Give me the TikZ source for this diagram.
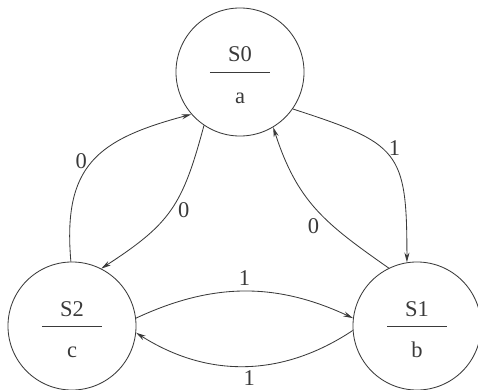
\documentclass[tikz,border=0pt]{standalone}
\usepackage{fontspec}
\setmainfont{Liberation Serif}
\usepackage{xcolor}
\usetikzlibrary{arrows.meta}
\definecolor{inkgray}{HTML}{3A3A3A}
\tikzset{
  state/.style={circle,draw=inkgray,line width=0.6pt,minimum size=3.2cm,inner sep=0pt},
  trans/.style={draw=inkgray,line width=0.6pt,-{Stealth[length=7pt,width=3.6pt]}},
  lbl/.style={font=\fontsize{16}{19}\selectfont,text=inkgray,inner sep=0pt},
}

\begin{document}
\begin{tikzpicture}[x=0.025cm,y=0.025cm]
  \useasboundingbox (0,0) rectangle (478,389);
  % states: name, output under the bar
  \foreach \nm/\px/\py/\st/\outp in {s0/240/317/S0/a, s2/72/63/S2/c, s1/417/63/S1/b} {
    \node[state] (\nm) at (\px,\py) {};
    \draw[inkgray,line width=0.5pt] ([xshift=-0.75cm]\nm.center) -- ([xshift=0.75cm]\nm.center);
    \node[lbl,anchor=base] (\nm-name) at ([yshift=0.25cm]\nm.center) {\st};
    \node[lbl,anchor=base] (\nm-out) at ([yshift=-0.78cm]\nm.center) {\outp};
  }
  % transitions
  \draw[trans] (s2.91) to[out=95,in=195,looseness=1.3] node[lbl,pos=0.5,left=4pt] (e20) {0} (s0.221);
  \draw[trans] (s0.236) to[out=255,in=33,looseness=1.2] node[lbl,pos=0.5,right=5pt] (e02) {0} (s2.63);
  \draw[trans] (s0.325) to[out=-18,in=90,looseness=1.5] node[lbl,pos=0.42,right=5pt] (e01) {1} (s1.99);
  \draw[trans] (s1.116) to[out=145,in=-72,looseness=1.1] node[lbl,pos=0.35,left=10pt] (e10) {0} (s0.301);
  \draw[trans] (s2.7) to[bend left=25] node[lbl,pos=0.5,above=4pt] (e21) {1} (s1.173);
  \draw[trans] (s1.184) to[bend left=33] node[lbl,pos=0.48,below=3pt] (e12) {1} (s2.354);
\end{tikzpicture}
\end{document}
